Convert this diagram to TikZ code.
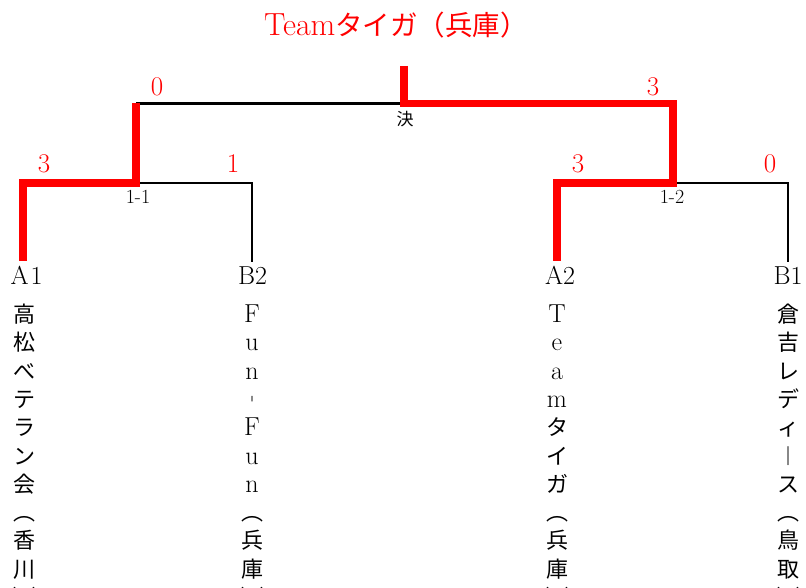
\documentclass[tikz,border=0pt]{standalone}
\usepackage{fontspec}
\newfontfamily\jp{Noto Sans CJK JP}
\definecolor{tred}{RGB}{255,0,0}
\newcommand\lt{\rmfamily\fontsize{26}{26}\selectfont}
\tikzset{
  win/.style={draw=tred, line width=7.5pt, line join=miter, line cap=butt},
  lose/.style={draw=black, line width=2.5pt, line join=miter, line cap=butt},
  score/.style={text=tred, font=\fontsize{27}{27}\selectfont, anchor=base, inner sep=0pt},
  seed/.style={font=\fontsize{26}{26}\selectfont, anchor=base, inner sep=0pt},
  matchlbl/.style={font=\fontsize{20}{20}\selectfont, anchor=base, inner sep=0pt},
  vch/.style={font=\jp\fontsize{22}{22}\selectfont, anchor=base, inner sep=0pt},
}
\begin{document}
\begin{tikzpicture}[x=1pt,y=-1pt]
\useasboundingbox (0,0) rectangle (806,588);
\clip (0,0) rectangle (806,588);
\fill[white] (0,0) rectangle (806,588);
% bracket points
\coordinate (top) at (404,66);
\coordinate (fin) at (404,103.5);
\coordinate (sf1) at (136,103.5);
\coordinate (sf2) at (673,103.5);
\coordinate (m1) at (136,183);
\coordinate (m2) at (673,183);
\coordinate (a1c) at (23,183);
\coordinate (b2c) at (252,183);
\coordinate (a2c) at (557,183);
\coordinate (b1c) at (788,183);
\coordinate (a1) at (23,261);
\coordinate (b2) at (252,262);
\coordinate (a2) at (557,261);
\coordinate (b1) at (788,262);
% losers' lines
\draw[lose] (sf1) -- (fin);
\draw[lose] (m1) -- (b2c) -- (b2);
\draw[lose] (m2) -- (b1c) -- (b1);
% winners' lines
\draw[win] (a1) -- (a1c) -- (m1) -- (sf1);
\draw[win] (top) -- (fin) -- (sf2) -- (m2) -- (a2c) -- (a2);
% title
\node[text=tred, anchor=base, inner sep=0pt] (title) at (396,36)
  {\fontsize{32}{32}\selectfont Team\jp\fontsize{27.5}{27.5}\selectfont タイガ（兵庫）};
% scores
\node[score] (sc-sf1) at (157,96) {0};
\node[score] (sc-sf2) at (653,96) {3};
\node[score] (sc-a1) at (44,173) {3};
\node[score] (sc-b2) at (233,173) {1};
\node[score] (sc-a2) at (578,173) {3};
\node[score] (sc-b1) at (770,173) {0};
% match labels
\node[font=\jp\fontsize{17}{17}\selectfont, inner sep=0pt] (ket) at (405,119) {決};
\node[matchlbl] (lbl11) at (138,204) {1-1};
\node[matchlbl] (lbl12) at (672,204) {1-2};
% seeds
\node[seed] (sd-a1) at (26.5,284) {A\kern2pt1};
\node[seed] (sd-b2) at (252.5,284) {B2};
\node[seed] (sd-a2) at (560,284) {A2};
\node[seed] (sd-b1) at (788,284) {B1};
% vertical team names
\foreach \ch [count=\i from 0] in {高,松,べ,テ,ラ,ン,会,︵,香,川,︶}
  \node[vch] (ca-\i) at (24,{322.5+28.3*\i}) {\ch};
\foreach \ch [count=\i from 0] in {{\lt F},{\lt u},{\lt n},︲,{\lt F},{\lt u},{\lt n},︵,兵,庫,︶}
  \node[vch] (cb-\i) at (252,{322.5+28.3*\i}) {\ch};
\foreach \ch [count=\i from 0] in {{\lt T},{\lt e},{\lt a},{\lt m},タ,イ,ガ,︵,兵,庫,︶}
  \node[vch] (cc-\i) at (557,{322.5+28.3*\i}) {\ch};
\foreach \ch [count=\i from 0] in {倉,吉,レ,デ,ィ,︱,ス,︵,鳥,取,︶}
  \node[vch] (cd-\i) at (788,{322.5+28.3*\i}) {\ch};
\end{tikzpicture}
\end{document}
